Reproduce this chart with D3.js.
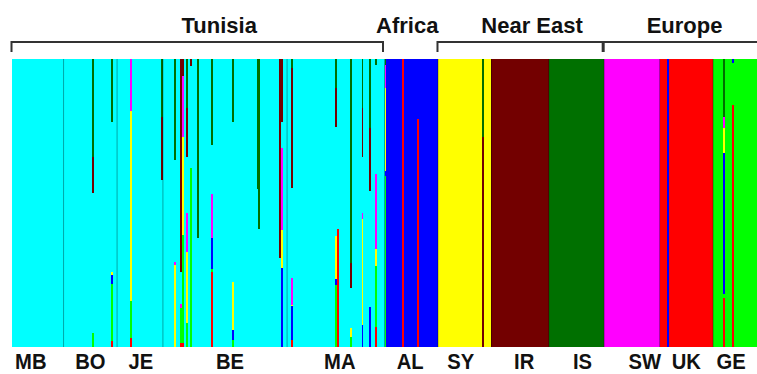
<!DOCTYPE html>
<html>
<head>
<meta charset="utf-8">
<script src="https://cdn.jsdelivr.net/npm/d3@7"></script>
<style>
  body { margin: 0; background: #fff; }
  svg { display: block; }
</style>
</head>
<body>
<svg id="chart"></svg>
<script>
// clusters in stacking order, bottom -> top
const clusters = ["red", "green", "blue", "yellow", "magenta", "cyan", "darkred", "darkgreen"];
const clusterColors = ["#ff0000", "#00ff00", "#0000ff", "#ffff00", "#ff00ff", "#00ffff", "#730000", "#007000"];

const populations = ["MB", "BO", "JE", "BE", "MA", "AL", "SY", "IR", "IS", "SW", "UK", "GE"];
const popSizes    = [27, 28, 24, 65, 51, 28, 28, 30, 29, 29, 28, 23];
const popCluster  = ["cyan", "cyan", "cyan", "cyan", "cyan", "blue", "yellow", "darkred", "darkgreen", "magenta", "red", "green"];

const regions    = ["Tunisia", "Africa", "Near East", "Europe"];
const regionPops = [[0, 4], [5, 5], [6, 8], [9, 11]];

// admixed individuals: [population, index in population, membership q]
const admixed = [
  ["BO", 15, {darkgreen: .34, darkred: .125, cyan: .485, green: .05}],
  ["BO", 25, {darkgreen: .22, cyan: .52, yellow: .01, blue: .03, green: .2, red: .02}],
  ["JE", 7,  {magenta: .18, yellow: .66, green: .13, red: .03}],
  ["JE", 23, {darkgreen: .2, darkred: .22, cyan: .58}],
  ["BE", 6,  {darkgreen: .35, cyan: .355, magenta: .01, yellow: .285}],
  ["BE", 9,  {darkred: .74, cyan: .11, magenta: .015, green: .12, red: .015}],
  ["BE", 10, {darkred: .06, magenta: .21, yellow: .34, green: .375, red: .015}],
  ["BE", 12, {darkgreen: .17, darkred: .17, cyan: .195, magenta: .135, yellow: .245, green: .085}],
  ["BE", 14, {darkred: .025, cyan: .355, green: .62}],
  ["BE", 18, {darkgreen: .62, cyan: .38}],
  ["BE", 25, {darkgreen: .30, cyan: .17, magenta: .15, blue: .11, green: .01, red: .26}],
  ["BE", 36, {darkgreen: .22, cyan: .555, yellow: .165, blue: .035, green: .025}],
  ["BE", 49, {darkgreen: .45, cyan: .55}],
  ["BE", 50, {darkgreen: .59, cyan: .41}],
  ["BE", 61, {darkred: .69, cyan: .31}],
  ["BE", 62, {darkred: .22, cyan: .09, magenta: .285, yellow: .13, blue: .275}],
  ["MA", 2,  {darkgreen: .03, darkred: .415, cyan: .31, magenta: .095, yellow: .005, blue: .115, red: .025}],
  ["MA", 25, {darkgreen: .10, darkred: .135, cyan: .38, yellow: .15, blue: .02, green: .215}],
  ["MA", 26, {cyan: .59, red: .41}],
  ["MA", 33, {darkgreen: .705, darkred: .085, cyan: .14, yellow: .03, green: .035}],
  ["MA", 39, {darkgreen: .17, darkred: .17, cyan: .195, magenta: .02, yellow: .37, blue: .075}],
  ["MA", 43, {darkgreen: .24, darkred: .22, cyan: .40, blue: .14}],
  ["MA", 46, {darkgreen: .02, cyan: .38, magenta: .26, yellow: .06, green: .21, red: .07}],
  ["AL", 0,  {darkgreen: .02, magenta: .08, yellow: .29, blue: .015, green: .595}],
  ["AL", 9,  {red: 1}],
  ["AL", 17, {blue: .21, red: .79}],
  ["SY", 23, {darkgreen: .27, darkred: .73}],
  ["UK", 4,  {blue: 1}],
  ["GE", 5,  {darkgreen: .2, magenta: .04, yellow: .085, blue: .49, green: .015, red: .17}],
  ["GE", 10, {blue: .015, green: .145, red: .84}]
];

// layout
const width = 757, height = 374;
const plot = {left: 12, right: 757, top: 59, bottom: 347};
const regionLabelDx = [22, -3, 12, 5];
const popLabelDx = [-7, 0, 1, 5, 4, -1, -4, 4, 6, 13, 0, -4];

const svg = d3.select("#chart")
  .attr("width", width)
  .attr("height", height);

// build individuals
const rows = [];
populations.forEach((p, pi) => {
  for (let j = 0; j < popSizes[pi]; j++) {
    const r = {pop: p};
    clusters.forEach(c => r[c] = 0);
    r[popCluster[pi]] = 1;
    rows.push(r);
  }
});
const popStart = Array.from(d3.cumsum([0, ...popSizes]));
admixed.forEach(([p, j, q]) => {
  const r = rows[popStart[populations.indexOf(p)] + j];
  const total = d3.sum(Object.values(q));
  clusters.forEach(c => r[c] = (q[c] || 0) / total);
});

const x = d3.scaleLinear()
  .domain([0, rows.length])
  .range([plot.left, plot.right]);
const y = d3.scaleLinear()
  .domain([0, 1])
  .range([plot.bottom, plot.top]);
const color = d3.scaleOrdinal().domain(clusters).range(clusterColors);

const series = d3.stack().keys(clusters)(rows);

// bars, one group per individual (each one drawn a bit wider, next one covers it)
const inds = svg.append("g")
  .attr("shape-rendering", "crispEdges")
  .selectAll("g")
  .data(rows)
  .join("g");

inds.selectAll("rect")
  .data((d, i) => series.map(s => ({key: s.key, i: i, y0: s[i][0], y1: s[i][1]}))
    .filter(s => s.y1 - s.y0 > 0))
  .join("rect")
  .attr("x", d => x(d.i))
  .attr("width", d => x(d.i + 1) - x(d.i) + 1)
  .attr("y", d => y(d.y1))
  .attr("height", d => y(d.y0) - y(d.y1))
  .attr("fill", d => color(d.key));

// population separators
svg.append("g")
  .selectAll("line")
  .data(popStart.slice(1, -1))
  .join("line")
  .attr("x1", d => x(d))
  .attr("x2", d => x(d))
  .attr("y1", plot.top)
  .attr("y2", plot.bottom)
  .attr("stroke", "#000")
  .attr("stroke-opacity", 0.35)
  .attr("stroke-width", 1);

// region brackets and labels
const bracketY = 42, tickLen = 10;
const brackets = svg.append("g")
  .attr("fill", "none")
  .attr("stroke", "#333")
  .attr("stroke-width", 2);

regions.forEach((name, ri) => {
  const [a, b] = regionPops[ri];
  const x0 = x(popStart[a]) - 0.5;
  const x1 = x(popStart[b + 1]) - 1.5;
  if (b > a) {
    const open = popStart[b + 1] === rows.length; // right end cropped off
    const path = d3.path();
    path.moveTo(x0, bracketY + tickLen);
    path.lineTo(x0, bracketY);
    if (open) {
      path.lineTo(width + 5, bracketY);
    } else {
      path.lineTo(x1, bracketY);
      path.lineTo(x1, bracketY + tickLen);
    }
    brackets.append("path").attr("d", path.toString());
  }
  svg.append("text")
    .attr("x", (x0 + x1) / 2 + regionLabelDx[ri])
    .attr("y", 33)
    .attr("text-anchor", "middle")
    .attr("font-family", "'Liberation Sans', Arial, sans-serif")
    .attr("font-weight", "bold")
    .attr("font-size", 22)
    .attr("fill", "#111")
    .text(name);
});

// population labels
svg.append("g")
  .selectAll("text")
  .data(populations)
  .join("text")
  .attr("transform", (d, i) => {
    const cx = x((popStart[i] + popStart[i + 1]) / 2) + popLabelDx[i];
    return "translate(" + cx + ",369) scale(0.92,1)";
  })
  .attr("text-anchor", "middle")
  .attr("font-family", "'Liberation Sans', Arial, sans-serif")
  .attr("font-weight", "bold")
  .attr("font-size", 22)
  .attr("fill", "#111")
  .text(d => d);
</script>
</body>
</html>
